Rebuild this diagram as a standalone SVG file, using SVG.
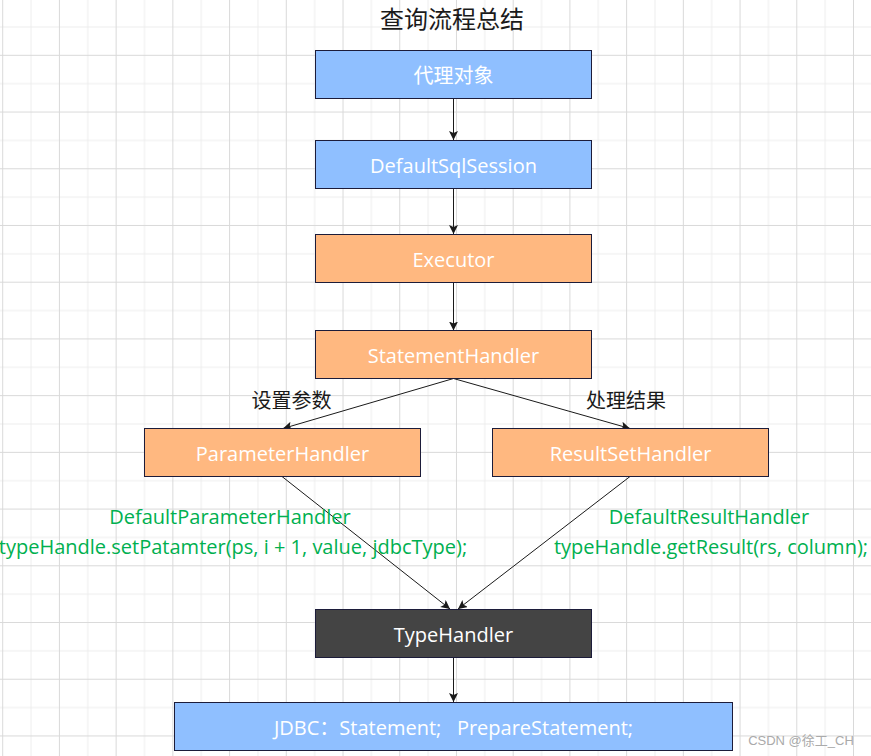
<svg xmlns="http://www.w3.org/2000/svg" width="871" height="756" viewBox="0 0 871 756">
<style>
.node rect{stroke:#1c1c3a;stroke-width:1}
.blue{fill:#8fbfff}
.orange{fill:#ffb880}
.dark{fill:#444444}
.lbl{font-family:'Open Sans','Noto Sans CJK SC',sans-serif;font-size:20px;fill:#ffffff;text-anchor:middle}
.cn{font-family:'Noto Sans CJK SC',sans-serif;fill:#1a1a1a;text-anchor:middle}
.green{font-family:'Open Sans','Noto Sans CJK SC',sans-serif;font-size:20px;fill:#00b050;text-anchor:middle}
.edge{stroke:#1a1a1a;stroke-width:1;fill:none}
</style>
<defs>
<pattern id="grid" patternUnits="userSpaceOnUse" x="2.2" y="-1.9" width="56.72" height="56.72">
<path d="M28.86,0V56.72M0,28.86H56.72" stroke="#ededed" stroke-width="1"/>
<path d="M0.5,0V56.72M0,0.5H56.72" stroke="#d9d9d9" stroke-width="1"/>
</pattern>
<marker id="arr" markerUnits="userSpaceOnUse" markerWidth="10" markerHeight="10" refX="9" refY="4.5" orient="auto">
<path d="M0,0L9,4.5L0,9L2,4.5z" fill="#1a1a1a"/>
</marker>
</defs>
<rect width="871" height="756" fill="#ffffff"/>
<rect width="871" height="756" fill="url(#grid)"/>

<text class="cn" x="452" y="28" font-size="24">查询流程总结</text>

<g id="connectors">
<path class="edge" d="M453.5,98.5V140" marker-end="url(#arr)"/>
<path class="edge" d="M453.5,188.5V234" marker-end="url(#arr)"/>
<path class="edge" d="M453.5,282.5V330.5" marker-end="url(#arr)"/>
<path class="edge" d="M453.5,378.5L283,428.5" marker-end="url(#arr)"/>
<path class="edge" d="M453.5,378.5L630,428.5" marker-end="url(#arr)"/>
<path class="edge" d="M282,476.5L450,609" marker-end="url(#arr)"/>
<path class="edge" d="M630,476.5L458,609" marker-end="url(#arr)"/>
<path class="edge" d="M453.5,657.5V702" marker-end="url(#arr)"/>
<text class="cn" x="291.5" y="408" font-size="20">设置参数</text>
<text class="cn" x="626" y="408" font-size="20">处理结果</text>
<text class="green" x="230" y="524">DefaultParameterHandler</text>
<text class="green" x="233" y="554">typeHandle.setPatamter(ps, i + 1, value, jdbcType);</text>
<text class="green" x="709" y="524">DefaultResultHandler</text>
<text class="green" x="711" y="554">typeHandle.getResult(rs, column);</text>
</g>

<g id="proxy" class="node"><rect class="blue" x="315.5" y="50.5" width="276" height="48"/><text class="lbl" x="453.5" y="83">代理对象</text></g>
<g id="session" class="node"><rect class="blue" x="315.5" y="140.5" width="276" height="48"/><text class="lbl" x="453.5" y="173">DefaultSqlSession</text></g>
<g id="executor" class="node"><rect class="orange" x="315.5" y="234.5" width="276" height="48"/><text class="lbl" x="453.5" y="267">Executor</text></g>
<g id="statement" class="node"><rect class="orange" x="315.5" y="330.5" width="276" height="48"/><text class="lbl" x="453.5" y="363">StatementHandler</text></g>
<g id="parameter" class="node"><rect class="orange" x="144.5" y="428.5" width="276" height="48"/><text class="lbl" x="282.5" y="461">ParameterHandler</text></g>
<g id="resultset" class="node"><rect class="orange" x="492.5" y="428.5" width="276" height="48"/><text class="lbl" x="630.5" y="461">ResultSetHandler</text></g>
<g id="typehandler" class="node"><rect class="dark" x="315.5" y="609.5" width="276" height="48"/><text class="lbl" x="453.5" y="642">TypeHandler</text></g>
<g id="jdbc" class="node"><rect class="blue" x="174.5" y="702.5" width="558" height="48"/><text class="lbl" x="453.5" y="735" xml:space="preserve">JDBC：Statement;   PrepareStatement;</text></g>

<text x="801" y="745" font-family="'Liberation Sans','Noto Sans CJK SC',sans-serif" font-size="13" fill="#aaaaaa" text-anchor="middle">CSDN @徐工_CH</text>
</svg>
